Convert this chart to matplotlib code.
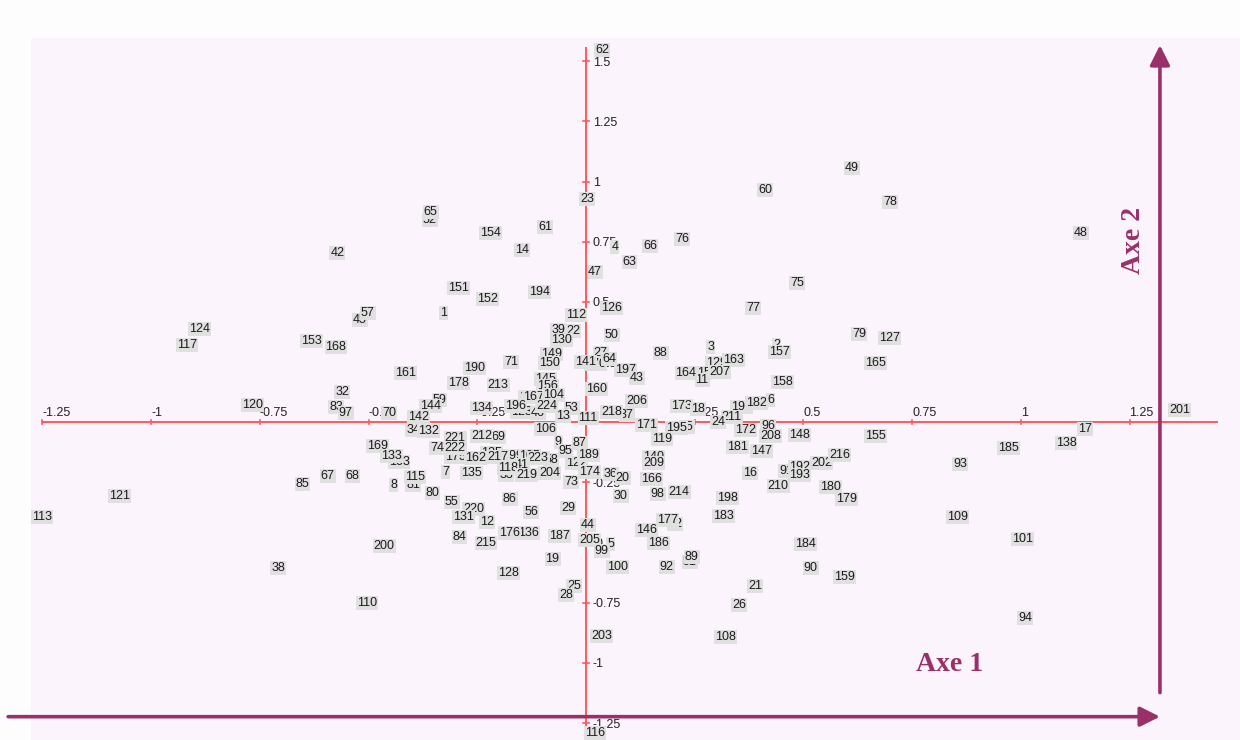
import matplotlib
matplotlib.use("Agg")
import matplotlib.pyplot as plt
from matplotlib.patches import Rectangle

# Individuals projected on the first factorial plane (Axe 1, Axe 2)
labels = [
    "52", "45", "10", "123", "46", "69", "74", "125", "199", "105", "58", "33",
    "81", "103", "136", "122", "27", "170", "129", "15", "11", "2", "191", "37",
    "35", "140", "91", "192", "72", "51", "149", "145", "34", "175", "59",
    "62", "23", "49", "60", "78", "48", "65", "154", "61", "14", "42", "4",
    "66", "76", "63", "47", "151", "152", "194", "75", "126", "77", "57", "1",
    "112", "124", "117", "153", "168", "161", "32", "120", "83", "97", "70",
    "39", "22", "130", "150", "141", "71", "190", "178", "213", "156", "167",
    "104", "144", "134", "196", "224", "53", "142", "13", "111", "132", "221",
    "212", "106", "222", "162", "217", "223", "41", "118", "219", "204", "7",
    "135", "115", "80", "55", "86", "220", "131", "56", "29", "12", "44", "73",
    "174", "9", "87", "95", "189", "169", "133", "85", "67", "68", "8", "121",
    "113", "200", "38", "110", "84", "215", "176", "187", "205", "19", "128",
    "25", "28", "50", "64", "197", "43", "88", "3", "163", "164", "207", "157",
    "158", "160", "206", "173", "18", "211", "182", "6", "218", "171", "195",
    "24", "119", "172", "96", "208", "148", "181", "147", "209", "36", "20",
    "166", "16", "193", "202", "216", "210", "30", "98", "214", "198", "183",
    "177", "146", "180", "179", "184", "90", "159", "5", "99", "186", "100",
    "92", "89", "21", "26", "203", "108", "116", "155", "93", "185", "138",
    "17", "109", "101", "94", "79", "127", "165", "201",
]
axe1 = [
    -0.359, -0.520, -0.138, -0.149, -0.110, -0.202, -0.343, -0.217, -0.170, -0.129, -0.080, -0.184,
    -0.397, -0.430, -0.133, -0.021, 0.034, 0.023, 0.301, 0.271, 0.267, 0.439, 0.358, 0.094,
    0.232, 0.156, 0.460, 0.492, 0.205, 0.239, -0.079, -0.094, -0.397, -0.301, -0.337,
    0.037, 0.002, 0.611, 0.412, 0.699, 1.138, -0.357, -0.219, -0.094, -0.148, -0.572, 0.066,
    0.148, 0.221, 0.100, 0.021, -0.293, -0.227, -0.107, 0.485, 0.058, 0.385, -0.502, -0.328,
    -0.023, -0.888, -0.918, -0.632, -0.575, -0.416, -0.561, -0.767, -0.575, -0.553, -0.452,
    -0.064, -0.029, -0.056, -0.085, -0.002, -0.172, -0.256, -0.294, -0.202, -0.088, -0.121,
    -0.075, -0.357, -0.240, -0.163, -0.090, -0.033, -0.386, -0.052, 0.005, -0.363, -0.301,
    -0.240, -0.094, -0.301, -0.255, -0.202, -0.110, -0.148, -0.179, -0.136, -0.084, -0.322,
    -0.263, -0.393, -0.353, -0.309, -0.175, -0.259, -0.282, -0.126, -0.041, -0.228, 0.005, -0.034,
    0.009, -0.064, -0.014, -0.047, 0.005, -0.479, -0.447, -0.652, -0.594, -0.537, -0.442, -1.073,
    -1.250, -0.464, -0.708, -0.504, -0.291, -0.230, -0.175, -0.061, 0.009, -0.077, -0.179,
    -0.027, -0.046, 0.059, 0.053, 0.090, 0.117, 0.172, 0.287, 0.340, 0.230, 0.307, 0.445,
    0.452, 0.025, 0.117, 0.220, 0.258, 0.335, 0.393, 0.425, 0.059, 0.140, 0.209,
    0.304, 0.174, 0.367, 0.419, 0.425, 0.491, 0.348, 0.404, 0.155, 0.057, 0.084,
    0.151, 0.377, 0.492, 0.542, 0.584, 0.442, 0.080, 0.165, 0.214, 0.325, 0.317,
    0.187, 0.140, 0.563, 0.600, 0.504, 0.517, 0.594, 0.057, 0.036, 0.166, 0.072,
    0.186, 0.243, 0.389, 0.352, 0.036, 0.320, 0.021, 0.665, 0.860, 0.971, 1.104,
    1.148, 0.855, 1.003, 1.010, 0.629, 0.699, 0.665, 1.366,
]
axe2 = [
    0.840, 0.425, 0.105, 0.043, 0.039, -0.060, -0.108, -0.129, -0.140, -0.140, -0.157, -0.219,
    -0.260, -0.166, -0.461, -0.170, 0.287, 0.242, 0.248, 0.204, 0.176, 0.321, 0.065, 0.030,
    -0.021, -0.144, -0.202, -0.186, -0.423, -0.580, 0.283, 0.180, -0.032, -0.143, 0.093,
    1.547, 0.928, 1.055, 0.965, 0.916, 0.785, 0.872, 0.785, 0.810, 0.717, 0.702, 0.730,
    0.734, 0.760, 0.665, 0.623, 0.557, 0.511, 0.543, 0.579, 0.474, 0.474, 0.453, 0.455,
    0.446, 0.388, 0.321, 0.338, 0.314, 0.206, 0.125, 0.072, 0.062, 0.037, 0.040,
    0.383, 0.381, 0.342, 0.245, 0.249, 0.251, 0.227, 0.165, 0.155, 0.151, 0.106,
    0.113, 0.068, 0.058, 0.068, 0.068, 0.061, 0.023, 0.026, 0.017, -0.036, -0.064,
    -0.056, -0.028, -0.108, -0.150, -0.143, -0.150, -0.177, -0.189, -0.219, -0.212, -0.205,
    -0.212, -0.226, -0.295, -0.332, -0.320, -0.361, -0.392, -0.374, -0.357, -0.413, -0.427, -0.247,
    -0.205, -0.083, -0.087, -0.119, -0.136, -0.097, -0.139, -0.258, -0.223, -0.222, -0.260, -0.306,
    -0.392, -0.513, -0.604, -0.752, -0.478, -0.500, -0.459, -0.472, -0.489, -0.568, -0.625,
    -0.680, -0.717, 0.363, 0.262, 0.217, 0.183, 0.287, 0.314, 0.259, 0.204, 0.210, 0.293,
    0.169, 0.138, 0.088, 0.068, 0.054, 0.023, 0.079, 0.093, 0.042, -0.011, -0.025,
    0.000, -0.069, -0.032, -0.015, -0.057, -0.053, -0.104, -0.119, -0.170, -0.216, -0.233,
    -0.236, -0.212, -0.219, -0.168, -0.136, -0.265, -0.306, -0.299, -0.288, -0.316, -0.389,
    -0.406, -0.447, -0.270, -0.320, -0.506, -0.604, -0.644, -0.507, -0.535, -0.503, -0.600,
    -0.600, -0.558, -0.679, -0.759, -0.888, -0.891, -1.292, -0.057, -0.174, -0.108, -0.087,
    -0.028, -0.395, -0.486, -0.812, 0.366, 0.351, 0.248, 0.051,
]
x_ticks = [-1.25, -1, -0.75, -0.5, -0.25, 0.25, 0.5, 0.75, 1, 1.25]
x_tick_labels = ["-1.25", "-1", "-0.75", "-0.5", "-0.25", "0.25", "0.5", "0.75", "1", "1.25"]
y_ticks = [1.5, 1.25, 1, 0.75, 0.5, 0.25, -0.25, -0.5, -0.75, -1, -1.25]
y_tick_labels = ["1.5", "1.25", "1", "0.75", "0.5", "0.25", "-0.25", "-0.5", "-0.75", "-1", "-1.25"]

W, H = 1240, 740
fig = plt.figure(figsize=(W / 100, H / 100), dpi=100, facecolor="#fdfdfd")
ax = fig.add_axes([0, 0, 1, 1])
ax.set_xlim(-1.3477, 1.5041)
ax.set_ylim(-1.3199, 1.7545)
ax.axis("off")

# pale pink plotting panel
ax.add_patch(Rectangle((31 / W, 0), 1 - 31 / W, (H - 38) / H, transform=ax.transAxes,
                       facecolor="#fcf4fc", edgecolor="none", zorder=0))

red = "#ff5a5a"
purple = "#9a3068"
font = "Liberation Sans"

# red coordinate axes through the origin
ax.plot([-1.25, 1.451], [0, 0], color=red, lw=1.4, zorder=1)
ax.plot([0, 0], [-1.27, 1.555], color=red, lw=1.4, zorder=1)
for t, s in zip(x_ticks, x_tick_labels):
    ax.plot([t, t], [-0.009, 0.009], color=red, lw=1.2, zorder=1)
    ax.annotate(s, (t, 0), xytext=(0, 2.5), textcoords="offset points",
                ha="left", va="bottom", fontsize=9, family=font, color="#222222", zorder=2)
for t, s in zip(y_ticks, y_tick_labels):
    ax.plot([-0.006, 0.006], [t, t], color=red, lw=1.2, zorder=1)
    ax.annotate(s, (0, t), xytext=(5, -1), textcoords="offset points",
                ha="left", va="center", fontsize=9, family=font, color="#222222", zorder=2)

# individual labels
for lab, x, y in zip(labels, axe1, axe2):
    ax.text(x, y, lab, ha="center", va="center", fontsize=9, family=font, color="#1a1a1a",
            zorder=3, bbox=dict(boxstyle="square,pad=0.08", facecolor="#e0e0e0", edgecolor="none"))

# purple axis arrows
arrow = dict(arrowstyle="-|>,head_length=0.6,head_width=0.3", color=purple, lw=2.6,
             mutation_scale=20, shrinkA=0, shrinkB=0)
ax.annotate("", xy=(1.320, -1.223), xytext=(-1.329, -1.223), arrowprops=arrow, zorder=4)
ax.annotate("", xy=(1.320, 1.567), xytext=(1.320, -1.123), arrowprops=arrow, zorder=4)
ax.text(0.837, -1.008, "Axe 1", ha="center", va="center", fontsize=20, fontweight="bold",
        family="Liberation Serif", color=purple, zorder=4)
ax.text(1.259, 0.757, "Axe 2", ha="center", va="center", fontsize=20, fontweight="bold",
        family="Liberation Serif", color=purple, rotation=90, zorder=4)

fig.savefig("out.png", dpi=100, facecolor=fig.get_facecolor())
